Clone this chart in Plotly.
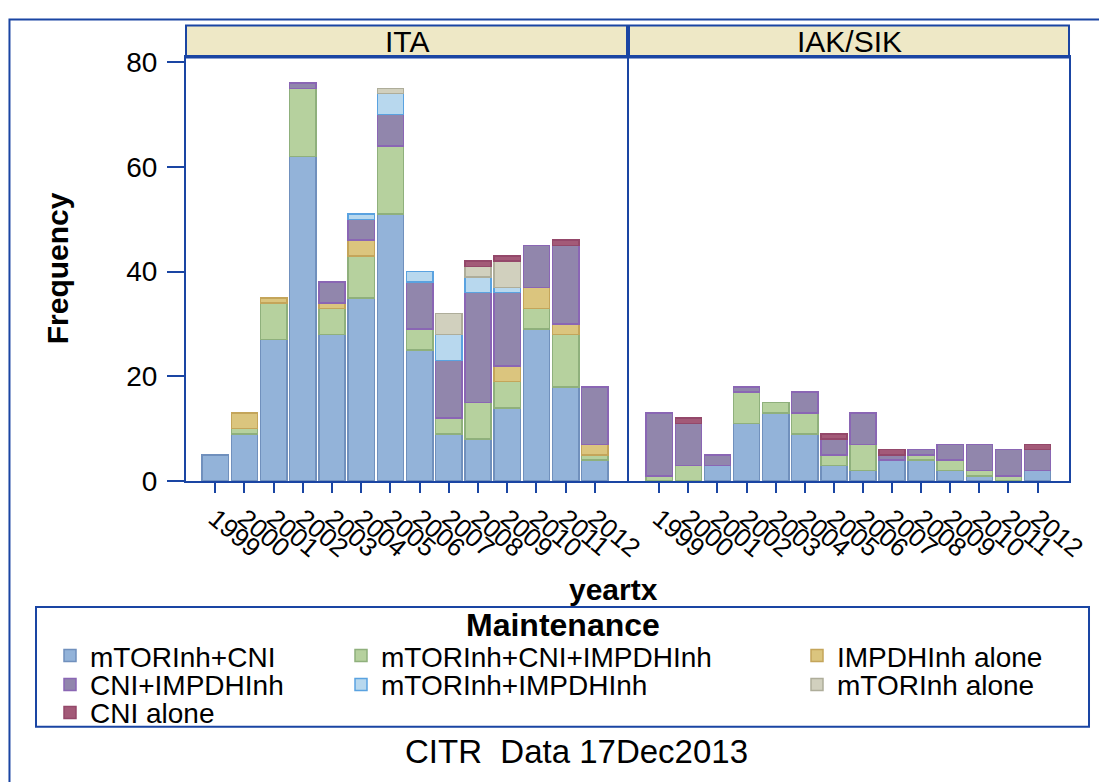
import plotly.graph_objects as go

# ---------------- data ----------------
years = ['1999', '2000', '2001', '2002', '2003', '2004', '2005',
         '2006', '2007', '2008', '2009', '2010', '2011', '2012']
panels = ['ITA', 'IAK/SIK']
series_names = ['mTORInh+CNI', 'mTORInh+CNI+IMPDHInh', 'IMPDHInh alone',
                'CNI+IMPDHInh', 'mTORInh+IMPDHInh', 'mTORInh alone', 'CNI alone']

ita_mtor_cni = [5, 9, 27, 62, 28, 35, 51, 25, 9, 8, 14, 29, 18, 4]
ita_mtor_cni_impdh = [0, 1, 7, 13, 5, 8, 13, 4, 3, 7, 5, 4, 10, 1]
ita_impdh_alone = [0, 3, 1, 0, 1, 3, 0, 0, 0, 0, 3, 4, 2, 2]
ita_cni_impdh = [0, 0, 0, 1, 4, 4, 6, 9, 11, 21, 14, 8, 15, 11]
ita_mtor_impdh = [0, 0, 0, 0, 0, 1, 4, 2, 5, 3, 1, 0, 0, 0]
ita_mtor_alone = [0, 0, 0, 0, 0, 0, 1, 0, 4, 2, 5, 0, 0, 0]
ita_cni_alone = [0, 0, 0, 0, 0, 0, 0, 0, 0, 1, 1, 0, 1, 0]

iak_mtor_cni = [0, 0, 3, 11, 13, 9, 3, 2, 4, 4, 2, 1, 0, 2]
iak_mtor_cni_impdh = [1, 3, 0, 6, 2, 4, 2, 5, 0, 1, 2, 1, 1, 0]
iak_impdh_alone = [0, 0, 0, 0, 0, 0, 0, 0, 0, 0, 0, 0, 0, 0]
iak_cni_impdh = [12, 8, 2, 1, 0, 4, 3, 6, 1, 1, 3, 5, 5, 4]
iak_mtor_impdh = [0, 0, 0, 0, 0, 0, 0, 0, 0, 0, 0, 0, 0, 0]
iak_mtor_alone = [0, 0, 0, 0, 0, 0, 0, 0, 0, 0, 0, 0, 0, 0]
iak_cni_alone = [0, 1, 0, 0, 0, 0, 1, 0, 1, 0, 0, 0, 0, 1]

y_ticks = [0, 20, 40, 60, 80]

# ---------------- styling ----------------
# observed page placement: shown = offset + scale * figure px
OX, OY = 8.0, 17.5
SX, SY = 0.983, 0.968
W, H = 1118, 790
BLUE = '#1A45A3'
FONT = 'Liberation Sans, Arial, sans-serif'
fills = ['#93B3D9', '#B6D19E', '#DBC57E', '#9186AC', '#B8D8EE', '#D1D0BE', '#A35A78']
lines = ['#7090BD', '#8FB07C', '#C4A55A', '#8A66B4', '#5AA2E0', '#AEAD9A', '#94486A']


def px_x(p):
    return ((p - OX) / SX) / W


def px_y(p):
    return 1 - ((p - OY) / SY) / H


ita = [ita_mtor_cni, ita_mtor_cni_impdh, ita_impdh_alone, ita_cni_impdh,
       ita_mtor_impdh, ita_mtor_alone, ita_cni_alone]
iak = [iak_mtor_cni, iak_mtor_cni_impdh, iak_impdh_alone, iak_cni_impdh,
       iak_mtor_impdh, iak_mtor_alone, iak_cni_alone]

xidx = list(range(len(years)))
legend_ids = ['legend', 'legend2', 'legend3', 'legend4', 'legend5', 'legend6', 'legend7']

fig = go.Figure()
for k, name in enumerate(series_names):
    for panel_data, xa, ya, show in [(ita, 'x', 'y', True), (iak, 'x2', 'y2', False)]:
        vals = [v if v else None for v in panel_data[k]]
        fig.add_trace(go.Bar(
            x=xidx, y=vals, name=name, xaxis=xa, yaxis=ya,
            marker=dict(color=fills[k], line=dict(color=lines[k], width=1.5)),
            showlegend=show, legend=legend_ids[k], legendgroup=name,
        ))

dom_y = [px_y(481), px_y(57)]
axis_common = dict(showline=True, mirror=True, linecolor=BLUE, linewidth=2,
                   showgrid=False, zeroline=False)

fig.update_layout(
    width=W, height=H, margin=dict(l=0, r=0, t=0, b=0),
    paper_bgcolor='white', plot_bgcolor='white',
    barmode='stack', bargap=0.1,
    font=dict(family=FONT, color='black'),
    xaxis=dict(domain=[px_x(186), px_x(627)], range=[-1.0, 14.1],
               tickmode='array', tickvals=xidx, ticktext=years,
               ticks='outside', ticklen=10, tickwidth=2, tickcolor=BLUE,
               tickangle=40, tickfont=dict(size=26, family=FONT), anchor='y',
               **axis_common),
    xaxis2=dict(domain=[px_x(629), px_x(1069)], range=[-1.04, 14.08],
                tickmode='array', tickvals=xidx, ticktext=years,
                ticks='outside', ticklen=10, tickwidth=2, tickcolor=BLUE,
                tickangle=40, tickfont=dict(size=26, family=FONT), anchor='y2',
                **axis_common),
    yaxis=dict(domain=dom_y, range=[0, 80.9], tickmode='array', tickvals=y_ticks,
               ticks='outside', ticklen=17, tickwidth=2, tickcolor=BLUE,
               ticklabelstandoff=4, tickfont=dict(size=28, family=FONT),
               anchor='x', **axis_common),
    yaxis2=dict(domain=dom_y, range=[0, 80.9], showticklabels=False, ticks='',
                anchor='x2', **axis_common),
)

# legends: one per entry so the 3-column grid can be reproduced
leg_pos = [(50, 656), (341, 656), (797, 656),
           (50, 685), (341, 685), (797, 685),
           (50, 713)]
for lid, (lx, ly) in zip(legend_ids, leg_pos):
    fig.update_layout({lid: dict(x=px_x(lx), y=px_y(ly), xanchor='left', yanchor='middle',
                                 orientation='v', bgcolor='rgba(0,0,0,0)', borderwidth=0,
                                 font=dict(size=28, family=FONT, color='black'),
                                 itemclick=False, itemdoubleclick=False)})

shapes = []
# outer frame (left and top edges visible, as in the reference)
shapes.append(dict(type='rect', xref='paper', yref='paper', x0=1.5 / W, x1=1.2,
                   y0=-0.2, y1=1 - 1.5 / H, line=dict(color=BLUE, width=2)))
# panel header strips
for x0, x1 in [(186, 627), (629, 1069)]:
    shapes.append(dict(type='rect', xref='paper', yref='paper', x0=px_x(x0), x1=px_x(x1),
                       y0=px_y(57), y1=px_y(25), fillcolor='#EEE8C6',
                       line=dict(color=BLUE, width=2), layer='below'))
# legend box
shapes.append(dict(type='rect', xref='paper', yref='paper', x0=px_x(36), x1=px_x(1089),
                   y0=px_y(727), y1=px_y(607), line=dict(color=BLUE, width=2)))
fig.update_layout(shapes=shapes)

ann = []
for name, cx in zip(panels, [(186 + 627) / 2, (629 + 1069) / 2]):
    ann.append(dict(text=name, x=px_x(cx), y=px_y(41), xref='paper', yref='paper',
                    showarrow=False, xanchor='center', yanchor='middle',
                    font=dict(size=30, family=FONT, color='black')))
ann.append(dict(text='<b>Frequency</b>', x=px_x(57), y=px_y(268), xref='paper', yref='paper',
                showarrow=False, textangle=-90, xanchor='center', yanchor='middle',
                font=dict(size=30, family=FONT, color='black')))
ann.append(dict(text='<b>yeartx</b>', x=px_x(613), y=px_y(590), xref='paper', yref='paper',
                showarrow=False, xanchor='center', yanchor='middle',
                font=dict(size=30, family=FONT, color='black')))
ann.append(dict(text='<b>Maintenance</b>', x=px_x(563), y=px_y(625), xref='paper', yref='paper',
                showarrow=False, xanchor='center', yanchor='middle',
                font=dict(size=32, family=FONT, color='black')))
ann.append(dict(text='CITR\u00a0 Data 17Dec2013', x=px_x(576), y=px_y(752), xref='paper',
                yref='paper', showarrow=False, xanchor='center', yanchor='middle',
                font=dict(size=33, family=FONT, color='black')))
fig.update_layout(annotations=ann)

fig.write_html("out.html")
